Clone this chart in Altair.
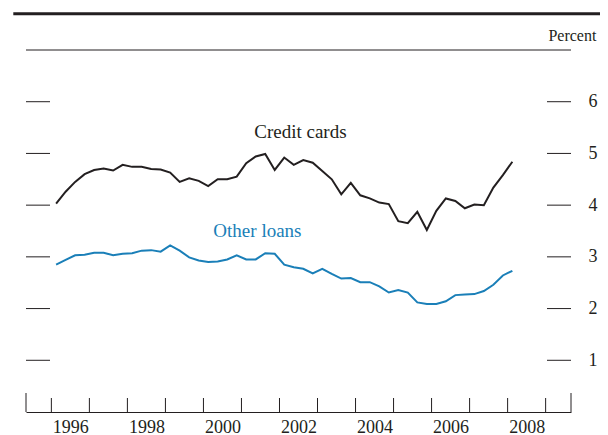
import altair as alt
import pandas as pd

# ---- data (quarterly, 1996Q1 - 2008Q1) ----
quarters = [f"{y}Q{q}" for y in range(1996, 2009) for q in range(1, 5)][:49]
credit_cards = [4.03, 4.26, 4.45, 4.60, 4.68, 4.71, 4.67, 4.78, 4.74, 4.74,
                4.70, 4.69, 4.63, 4.45, 4.52, 4.47, 4.37, 4.50, 4.50, 4.55,
                4.81, 4.94, 4.99, 4.68, 4.92, 4.78, 4.87, 4.82, 4.66, 4.50,
                4.21, 4.43, 4.19, 4.13, 4.05, 4.02, 3.69, 3.65, 3.87, 3.52,
                3.89, 4.13, 4.08, 3.94, 4.01, 4.00, 4.34, 4.58, 4.84]
other_loans = [2.85, 2.94, 3.03, 3.04, 3.08, 3.08, 3.03, 3.06, 3.07, 3.12,
               3.13, 3.10, 3.22, 3.12, 2.99, 2.93, 2.90, 2.91, 2.95, 3.03,
               2.95, 2.95, 3.07, 3.06, 2.85, 2.80, 2.77, 2.68, 2.77, 2.67,
               2.58, 2.59, 2.51, 2.51, 2.43, 2.31, 2.36, 2.31, 2.12, 2.09,
               2.09, 2.14, 2.26, 2.27, 2.28, 2.34, 2.46, 2.64, 2.73]
series_names = ["Credit cards", "Other loans"]
series_colors = ["#231f20", "#1a7fb8"]
label_t = [2002.55, 2001.42]
label_v = [5.30, 3.38]
y_ticks = [1, 2, 3, 4, 5, 6]
year_ticks = list(range(1996, 2010))
year_labels = [1996, 1998, 2000, 2002, 2004, 2006, 2008]
x_domain = [1995.333, 2009.667]
y_domain = [0, 7]

INK = "#231f20"
FONT = "Liberation Serif"
W, H = 545, 362
PAD = {"left": 18, "top": 42, "right": 29, "bottom": 23}


def qpos(s):
    return int(s[:4]) + (int(s[-1]) - 0.5) / 4


rows = []
for name, vals in zip(series_names, [credit_cards, other_loans]):
    for qs, v in zip(quarters, vals):
        rows.append({"t": qpos(qs), "value": v, "series": name})
df = pd.DataFrame(rows)

xs = alt.Scale(domain=x_domain, nice=False, zero=False)
ys = alt.Scale(domain=y_domain, nice=False)

x_axis = alt.Axis(values=[y + 0.5 for y in year_labels], labelExpr="floor(datum.value)",
                  ticks=False, tickSize=0, grid=False, domain=True, domainColor=INK,
                  domainWidth=1, labelFont=FONT, labelFontSize=18, labelColor=INK,
                  labelBaseline="alphabetic", labelPadding=20, labelFlush=False,
                  labelOverlap=False, title=None)
y_axis = alt.Axis(orient="right", values=y_ticks, ticks=False, tickSize=0, grid=False,
                  domain=False, labelFont=FONT, labelFontSize=18, labelColor=INK,
                  labelPadding=17, labelAlign="left", title=None)

color = alt.Color("series:N", scale=alt.Scale(domain=series_names, range=series_colors), legend=None)

lines = alt.Chart(df).mark_line(strokeWidth=2).encode(
    x=alt.X("t:Q", scale=xs, axis=x_axis),
    y=alt.Y("value:Q", scale=ys, axis=y_axis),
    color=color,
    detail="series:N",
)

lab_df = pd.DataFrame({"t": label_t, "value": label_v, "series": series_names})
labels = alt.Chart(lab_df).mark_text(font=FONT, fontSize=19, align="center",
                                     baseline="alphabetic").encode(
    x=alt.X("t:Q", scale=xs, axis=x_axis),
    y=alt.Y("value:Q", scale=ys, axis=y_axis),
    text="series:N",
    color=color,
)

ytick_df = pd.DataFrame({"value": y_ticks})
left_ticks = alt.Chart(ytick_df).mark_rule(color=INK, strokeWidth=1).encode(
    y=alt.Y("value:Q", scale=ys, axis=y_axis), x=alt.value(0), x2=alt.value(24))
right_ticks = alt.Chart(ytick_df).mark_rule(color=INK, strokeWidth=1).encode(
    y=alt.Y("value:Q", scale=ys, axis=y_axis), x=alt.value(W - 24), x2=alt.value(W))

xtick_df = pd.DataFrame({"t": year_ticks})
x_ticks = alt.Chart(xtick_df).mark_rule(color=INK, strokeWidth=1).encode(
    x=alt.X("t:Q", scale=xs, axis=x_axis), y=alt.value(H - 14), y2=alt.value(H))
end_df = pd.DataFrame({"t": x_domain})
end_ticks = alt.Chart(end_df).mark_rule(color=INK, strokeWidth=1).encode(
    x=alt.X("t:Q", scale=xs, axis=x_axis), y=alt.value(H - 19), y2=alt.value(H))

one = pd.DataFrame({"a": [0]})
top_thin = alt.Chart(one).mark_rule(color=INK, strokeWidth=1).encode(
    x=alt.value(0), x2=alt.value(W), y=alt.value(0))
top_thick = alt.Chart(one).mark_rule(color=INK, strokeWidth=3).encode(
    x=alt.value(-12.7), x2=alt.value(W + PAD["right"]), y=alt.value(-36.3))
percent = alt.Chart(one).mark_text(text="Percent", font=FONT, fontSize=16, align="right",
                                   baseline="alphabetic", color=INK).encode(
    x=alt.value(570.4), y=alt.value(-9))

chart = alt.layer(top_thick, top_thin, percent, left_ticks, right_ticks, x_ticks, end_ticks,
                  lines, labels).properties(
    width=W, height=H,
    padding=PAD,
    background="white",
    autosize=alt.AutoSizeParams(type="none"),
).configure_view(stroke=None)

chart.save("out.html", embed_options={"renderer": "svg", "actions": False})
